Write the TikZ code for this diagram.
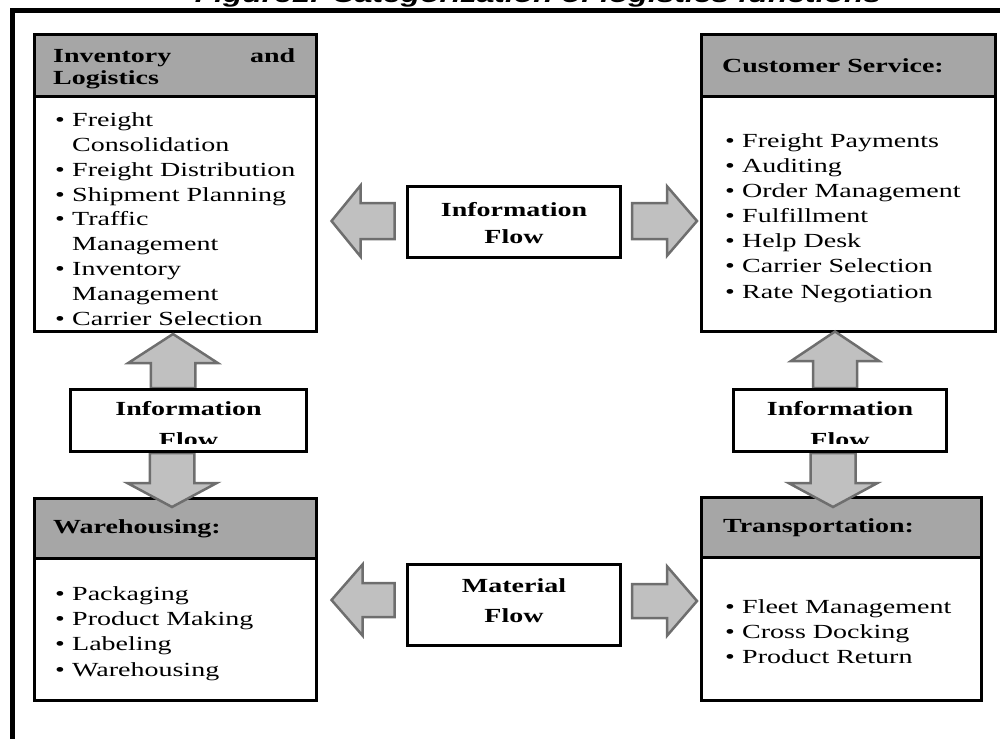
\documentclass[tikz,border=0pt]{standalone}
\usepackage{fontspec}
\setmainfont{Liberation Serif}[FakeStretch=1.4]
\newfontfamily\titlefont{Liberation Sans}[FakeStretch=1.4]

\definecolor{headgray}{HTML}{A6A6A6}
\definecolor{arrowfill}{HTML}{C0C0C0}
\definecolor{arrowline}{HTML}{6E6E6E}

\newcommand{\bul}{\makebox[17pt][l]{\textbullet}}
\newcommand{\ind}{\hspace*{17pt}}

\tikzset{
  headbox/.style={draw, line width=3pt, fill=headgray, anchor=north west, inner sep=0pt, outer sep=0pt},
  bodybox/.style={draw, line width=3pt, fill=white, anchor=north west, inner sep=0pt, outer sep=0pt},
  headtext/.style={anchor=base west, inner sep=0pt, align=left, font=\fontsize{20}{22}\selectfont\bfseries},
  listtext/.style={anchor=base west, inner sep=0pt, align=left, font=\fontsize{20}{24.8}\selectfont},
  flowbox/.style={draw, line width=3pt, fill=white, inner sep=0pt, align=center, text depth=0pt},
  flowarrow/.style={draw=arrowline, fill=arrowfill, line width=2.5pt, line join=miter},
  % tip at the origin, pointing along x: length, head length, half head width, half shaft width
  pics/blockarrow/.style n args={4}{code={
    \draw[flowarrow] (0,0) -- (-#2,#3) -- (-#2,#4) -- (-#1,#4) -- (-#1,-#4) -- (-#2,-#4) -- (-#2,-#3) -- cycle;
  }},
  % text of the small boxes, cut off at the bottom
  cutflow/.style={path picture={
    \clip (path picture bounding box.north west) rectangle ([yshift=8.5pt]path picture bounding box.south east);
    \node[anchor=base, inner sep=0pt, align=center, font=\fontsize{20}{31}\selectfont\bfseries]
      at ([yshift=-56.5pt]path picture bounding box.north) {#1};
  }},
  titletext/.style={anchor=base, inner sep=0pt, font=\titlefont\bfseries\itshape\fontsize{22.7}{26}\selectfont}
}

\begin{document}
\begin{tikzpicture}[x=1pt,y=-1pt]
\useasboundingbox (0,0) rectangle (1000,738);

% title and frame
\node[titletext] (title) at (538,3) {Figure1: Categorization of logistics functions};
\draw[line width=4.5pt] (12.5,760) |- (1020,10.5);

% Inventory and Logistics
\node[headbox, minimum width=282pt, minimum height=62.5pt] (invhead) at (34.5,34.5) {};
\node[bodybox, minimum width=282pt, minimum height=234.5pt] (invbody) at (invhead.south west) {};
\node[headtext, text width=242pt] (invtitle) at (53,63) {Inventory\hfill and\\Logistics};
\node[listtext] (invlist) at (55,325) {\bul Freight\\
  \ind Consolidation\\
  \bul Freight Distribution\\
  \bul Shipment Planning\\
  \bul Traffic\\
  \ind Management\\
  \bul Inventory\\
  \ind Management\\
  \bul Carrier Selection};

% Customer Service
\node[headbox, minimum width=294pt, minimum height=62.5pt] (csthead) at (701.5,34.5) {};
\node[bodybox, minimum width=294pt, minimum height=234.5pt] (cstbody) at (csthead.south west) {};
\node[headtext] (csttitle) at (722,73) {Customer Service:};
\node[listtext, font=\fontsize{20}{25.1}\selectfont] (cstlist) at (725,298) {\bul Freight Payments\\
  \bul Auditing\\
  \bul Order Management\\
  \bul Fulfillment\\
  \bul Help Desk\\
  \bul Carrier Selection\\
  \bul Rate Negotiation};

% Warehousing
\node[headbox, minimum width=282pt, minimum height=60pt] (whhead) at (34.5,498.5) {};
\node[bodybox, minimum width=282pt, minimum height=142pt] (whbody) at (whhead.south west) {};
\node[headtext] (whtitle) at (53,533) {Warehousing:};
\node[listtext, font=\fontsize{20}{25.3}\selectfont] (whlist) at (55,676) {\bul Packaging\\
  \bul Product Making\\
  \bul Labeling\\
  \bul Warehousing};

% Transportation
\node[headbox, minimum width=280pt, minimum height=60pt] (trhead) at (701.5,497) {};
\node[bodybox, minimum width=280pt, minimum height=143.5pt] (trbody) at (trhead.south west) {};
\node[headtext] (trtitle) at (723,532) {Transportation:};
\node[listtext, font=\fontsize{20}{25}\selectfont] (trlist) at (725,663) {\bul Fleet Management\\
  \bul Cross Docking\\
  \bul Product Return};

% block arrows
\pic (infoarrowL) [rotate=180] at (331.5,221) {blockarrow={63}{29}{35.5}{18}};
\pic (infoarrowR) at (697,221) {blockarrow={65}{30}{34.75}{18}};
\pic (matarrowL) [rotate=180] at (331.5,600) {blockarrow={63}{31}{35.5}{17}};
\pic (matarrowR) at (697,601) {blockarrow={65}{30}{34.75}{17}};
\pic (leftarrowU) [rotate=90] at (173,334) {blockarrow={54}{29}{44.75}{22.25}};
\pic (leftarrowD) [rotate=270] at (172,507) {blockarrow={54}{24}{44.75}{22.25}};
\pic (rightarrowU) [rotate=90] at (835,331.5) {blockarrow={56.5}{29.5}{44}{22}};
\pic (rightarrowD) [rotate=270] at (833,507) {blockarrow={54}{24}{44.5}{22.5}};

% flow boxes
\node[flowbox, minimum width=213pt, minimum height=71pt, text height=42pt,
  font=\fontsize{20}{27}\selectfont\bfseries] (infotop) at (514,222) {Information\\Flow};
\node[flowbox, minimum width=213pt, minimum height=81pt, text height=34pt,
  font=\fontsize{20}{30}\selectfont\bfseries] (matflow) at (514,605) {Material\\Flow};
\node[flowbox, minimum width=236pt, minimum height=62pt, cutflow={Information\\Flow}] (infoleft) at (188.5,420.5) {};
\node[flowbox, minimum width=213pt, minimum height=62pt, cutflow={Information\\Flow}] (inforight) at (840,420.5) {};

\end{tikzpicture}
\end{document}
